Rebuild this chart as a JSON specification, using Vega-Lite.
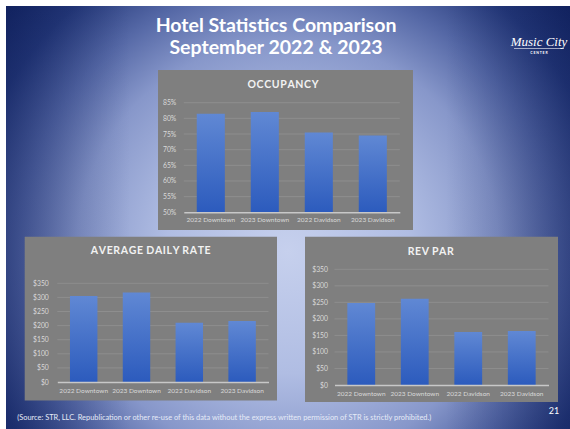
{
  "$schema": "https://vega.github.io/schema/vega-lite/v6.json",
  "width": 570,
  "height": 429,
  "autosize": {"type": "fit", "contains": "padding"},
  "padding": {"left": 6, "top": 6, "right": 0, "bottom": 0},
  "background": "white",
  "config": {
    "view": {"stroke": null},
    "font": "Lato",
    "axis": {"labelFont": "Lato", "labelFontSize": 6.8, "labelColor": "#d9d9d9", "ticks": false, "tickSize": 0, "domain": false, "grid": false, "labelOverlap": false, "labelLimit": 0}
  },
  "resolve": {"scale": {"x": "independent", "y": "independent"}},
  "layer": [
    {
      "data": {"values": [{}]},
      "mark": {"type": "rect", "fill": {"gradient": "radial", "x1": 0.5, "y1": 0.56, "r1": 0, "x2": 0.5, "y2": 0.56, "r2": 0.72,
        "stops": [
          {"offset": 0, "color": "#c6d0ed"},
          {"offset": 0.3, "color": "#b0bde3"},
          {"offset": 0.52, "color": "#8797ca"},
          {"offset": 0.66, "color": "#5568a6"},
          {"offset": 0.8, "color": "#25397a"},
          {"offset": 1, "color": "#0a1a55"}
        ]}},
      "encoding": {}
    },
    {
      "data": {"values": [{}]},
      "mark": {"type": "rect", "fill": {"gradient": "linear", "x1": 0, "y1": 0, "x2": 1, "y2": 0,
        "stops": [
          {"offset": 0, "color": "rgba(10,25,85,0.35)"},
          {"offset": 0.22, "color": "rgba(10,25,85,0)"},
          {"offset": 0.78, "color": "rgba(10,25,85,0)"},
          {"offset": 1, "color": "rgba(10,25,85,0.35)"}
        ]}},
      "encoding": {}
    },
    {
      "data": {"values": [{}]},
      "mark": {"type": "text", "text": ["Hotel Statistics Comparison", "September 2022 & 2023"], "font": "Lato", "fontWeight": "bold", "fontSize": 19.5, "lineHeight": 22, "align": "center", "baseline": "alphabetic", "fill": "#ffffff"},
      "encoding": {"x": {"value": 270}, "y": {"value": 25.5}}
    },
    {
      "data": {"values": [{}]},
      "mark": {"type": "text", "text": "Music City", "font": "Liberation Serif", "fontStyle": "italic", "fontSize": 13, "align": "center", "baseline": "alphabetic", "fill": "#ffffff"},
      "encoding": {"x": {"value": 533}, "y": {"value": 40}}
    },
    {
      "data": {"values": [{}]},
      "mark": {"type": "rule", "stroke": "#ffffff", "strokeWidth": 0.6},
      "encoding": {"x": {"value": 508}, "x2": {"value": 558}, "y": {"value": 42.5}}
    },
    {
      "data": {"values": [{}]},
      "mark": {"type": "text", "text": "C E N T E R", "font": "Lato", "fontWeight": "bold", "fontSize": 3.5, "align": "center", "baseline": "middle", "fill": "#ffffff"},
      "encoding": {"x": {"value": 533}, "y": {"value": 47}}
    },
    {
      "data": {"values": [{}]},
      "mark": {"type": "text", "text": "(Source: STR, LLC. Republication or other re-use of this data without the express written permission of STR is strictly prohibited.)", "font": "Lato", "fontSize": 7.4, "align": "left", "baseline": "middle", "fill": "#e6ebf7"},
      "encoding": {"x": {"value": 11.3}, "y": {"value": 412}}
    },
    {
      "data": {"values": [{}]},
      "mark": {"type": "text", "text": "21", "font": "Lato", "fontSize": 9, "align": "center", "baseline": "middle", "fill": "#ffffff"},
      "encoding": {"x": {"value": 548}, "y": {"value": 405}}
    },
    {
      "data": {"values": [{}]},
      "mark": {"type": "rect", "fill": "#7f7f7f"},
      "encoding": {"x": {"value": 152}, "x2": {"value": 407}, "y": {"value": 64}, "y2": {"value": 224}}
    },
    {
      "data": {"values": [{}]},
      "mark": {"type": "rect", "fill": "#7f7f7f"},
      "encoding": {"x": {"value": 18.7}, "x2": {"value": 271}, "y": {"value": 230.7}, "y2": {"value": 394.5}}
    },
    {
      "data": {"values": [{}]},
      "mark": {"type": "rect", "fill": "#7f7f7f"},
      "encoding": {"x": {"value": 299}, "x2": {"value": 552}, "y": {"value": 230.7}, "y2": {"value": 396}}
    },
    {
      "data": {"values": [{}]},
      "mark": {"type": "text", "text": "O\u200aC\u200aC\u200aU\u200aP\u200aA\u200aN\u200aC\u200aY", "font": "Lato", "fontWeight": "bold", "fontSize": 10.5, "align": "center", "baseline": "middle", "fill": "#f2f2f2"},
      "encoding": {"x": {"value": 277}, "y": {"value": 79}}
    },
    {
      "data": {"values": [{}]},
      "mark": {"type": "text", "text": "A\u200aV\u200aE\u200aR\u200aA\u200aG\u200aE \u200aD\u200aA\u200aI\u200aL\u200aY \u200aR\u200aA\u200aT\u200aE", "font": "Lato", "fontWeight": "bold", "fontSize": 10.5, "align": "center", "baseline": "middle", "fill": "#f2f2f2"},
      "encoding": {"x": {"value": 144.7}, "y": {"value": 245}}
    },
    {
      "data": {"values": [{}]},
      "mark": {"type": "text", "text": "R\u200aE\u200aV \u200aP\u200aA\u200aR", "font": "Lato", "fontWeight": "bold", "fontSize": 10.5, "align": "center", "baseline": "middle", "fill": "#f2f2f2"},
      "encoding": {"x": {"value": 424.7}, "y": {"value": 245.7}}
    },
    {
      "layer": [
        {
          "data": {"values": [{"tick": 0.55}, {"tick": 0.6}, {"tick": 0.65}, {"tick": 0.7}, {"tick": 0.75}, {"tick": 0.8}, {"tick": 0.85}]},
          "mark": {"type": "rule", "stroke": "#8e8e8e", "strokeWidth": 1},
          "encoding": {"y": {"field": "tick", "type": "quantitative"}, "x": {"value": 177.8}, "x2": {"value": 393.8}}
        },
        {
          "data": {"values": [
            {"category": "2022 Downtown", "occupancy": 0.815},
            {"category": "2023 Downtown", "occupancy": 0.82},
            {"category": "2022 Davidson", "occupancy": 0.755},
            {"category": "2023 Davidson", "occupancy": 0.745}
          ]},
          "mark": {"type": "bar", "fill": {"gradient": "linear", "x1": 0, "y1": 0, "x2": 0, "y2": 1, "stops": [{"offset": 0, "color": "#6088d4"}, {"offset": 1, "color": "#2c5bbd"}]}},
          "encoding": {
            "x": {"field": "category", "type": "nominal", "sort": null,
              "scale": {"range": [177.8, 393.8], "paddingInner": 0.48, "paddingOuter": 0.24},
              "axis": {"orient": "bottom", "offset": -216.7, "zindex": 1, "title": null, "labelAngle": 0, "labelFontSize": 6.5, "domain": true, "domainColor": "#c8c8c8", "domainWidth": 1.5, "labelPadding": 4}},
            "y": {"field": "occupancy", "type": "quantitative",
              "scale": {"domain": [0.5, 0.85], "range": [206.3, 96.7], "nice": false, "zero": false},
              "axis": {"orient": "left", "offset": -177.8, "zindex": 1, "title": null, "values": [0.5, 0.55, 0.6, 0.65, 0.7, 0.75, 0.8, 0.85], "format": ".0%", "labelPadding": 8}},
            "y2": {"datum": 0.5}
          }
        }
      ]
    },
    {
      "layer": [
        {
          "data": {"values": [{"tick": 50}, {"tick": 100}, {"tick": 150}, {"tick": 200}, {"tick": 250}, {"tick": 300}, {"tick": 350}]},
          "mark": {"type": "rule", "stroke": "#8e8e8e", "strokeWidth": 1},
          "encoding": {"y": {"field": "tick", "type": "quantitative"}, "x": {"value": 51.3}, "x2": {"value": 262.5}}
        },
        {
          "data": {"values": [
            {"category": "2022 Downtown", "adr": 305},
            {"category": "2023 Downtown", "adr": 317},
            {"category": "2022 Davidson", "adr": 210},
            {"category": "2023 Davidson", "adr": 216}
          ]},
          "mark": {"type": "bar", "fill": {"gradient": "linear", "x1": 0, "y1": 0, "x2": 0, "y2": 1, "stops": [{"offset": 0, "color": "#6088d4"}, {"offset": 1, "color": "#2c5bbd"}]}},
          "encoding": {
            "x": {"field": "category", "type": "nominal", "sort": null,
              "scale": {"range": [51.3, 262.5], "paddingInner": 0.48, "paddingOuter": 0.24},
              "axis": {"orient": "bottom", "offset": -47, "zindex": 1, "title": null, "labelAngle": 0, "labelFontSize": 6.5, "domain": true, "domainColor": "#c8c8c8", "domainWidth": 1.5, "labelPadding": 5}},
            "y": {"field": "adr", "type": "quantitative",
              "scale": {"domain": [0, 350], "range": [376, 277.3], "nice": false},
              "axis": {"orient": "left", "offset": -51.3, "zindex": 1, "title": null, "values": [0, 50, 100, 150, 200, 250, 300, 350], "format": "$,.0f", "labelPadding": 9}}
          }
        }
      ]
    },
    {
      "layer": [
        {
          "data": {"values": [{"tick": 50}, {"tick": 100}, {"tick": 150}, {"tick": 200}, {"tick": 250}, {"tick": 300}, {"tick": 350}]},
          "mark": {"type": "rule", "stroke": "#8e8e8e", "strokeWidth": 1},
          "encoding": {"y": {"field": "tick", "type": "quantitative"}, "x": {"value": 328.5}, "x2": {"value": 542.5}}
        },
        {
          "data": {"values": [
            {"category": "2022 Downtown", "revpar": 248},
            {"category": "2023 Downtown", "revpar": 261},
            {"category": "2022 Davidson", "revpar": 160},
            {"category": "2023 Davidson", "revpar": 163}
          ]},
          "mark": {"type": "bar", "fill": {"gradient": "linear", "x1": 0, "y1": 0, "x2": 0, "y2": 1, "stops": [{"offset": 0, "color": "#6088d4"}, {"offset": 1, "color": "#2c5bbd"}]}},
          "encoding": {
            "x": {"field": "category", "type": "nominal", "sort": null,
              "scale": {"range": [328.5, 542.5], "paddingInner": 0.48, "paddingOuter": 0.24},
              "axis": {"orient": "bottom", "offset": -44, "zindex": 1, "title": null, "labelAngle": 0, "labelFontSize": 6.5, "domain": true, "domainColor": "#c8c8c8", "domainWidth": 1.5, "labelPadding": 5}},
            "y": {"field": "revpar", "type": "quantitative",
              "scale": {"domain": [0, 350], "range": [379, 263.3], "nice": false},
              "axis": {"orient": "left", "offset": -328.5, "zindex": 1, "title": null, "values": [0, 50, 100, 150, 200, 250, 300, 350], "format": "$,.0f", "labelPadding": 7}}
          }
        }
      ]
    }
  ]
}
